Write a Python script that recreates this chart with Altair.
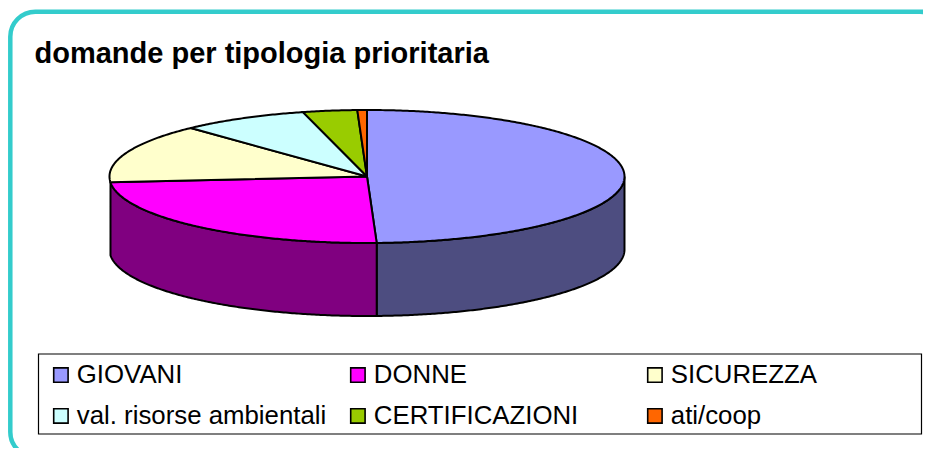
import math
import altair as alt
import pandas as pd

categories = ["GIOVANI", "DONNE", "SICUREZZA", "val. risorse ambientali", "CERTIFICAZIONI", "ati/coop"]
shares = [49.4, 24.2, 14.4, 8.0, 3.4, 0.6]
top_colors = ["#9999FF", "#FF00FF", "#FFFFCC", "#CCFFFF", "#99CC00", "#FF6600"]
wall_colors = {"GIOVANI": "#4D4D80", "DONNE": "#800080"}
title_text = "domande per tipologia prioritaria"

W, H = 915, 440
CX, CY, RX, RY, DEPTH = 367, 176.5, 257.5, 66.5, 73


def pt(deg):
    a = math.radians(deg)
    return math.sin(a), math.cos(a)


def arc(a0, a1):
    n = max(2, int(abs(a1 - a0) * 2))
    return [pt(a0 + (a1 - a0) * i / n) for i in range(n + 1)]


total = sum(shares)
top_rows, wall_rows = [], []
start = 0.0
for cat, s in zip(categories, shares):
    end = start + 360 * s / total
    poly = [(0.0, 0.0)] + arc(start, end) + [(0.0, 0.0)]
    for i, (x, y) in enumerate(poly):
        top_rows.append({"slice": cat, "x": x, "y": y, "i": i})
    # the visible outer wall: front half of the ellipse only
    w0, w1 = max(start, 90), min(end, 270)
    if cat in wall_colors and w1 > w0:
        edge = arc(w0, w1)
        ring = edge + [(x, y - DEPTH / RY) for x, y in reversed(edge)] + [edge[0]]
        for i, (x, y) in enumerate(ring):
            wall_rows.append({"wall": cat, "color": wall_colors[cat], "x": x, "y": y, "i": i})
    start = end

x_scale = alt.Scale(domain=[(8 - CX) / RX, (8 + W - CX) / RX], range=[0, W], nice=False, zero=False)
y_scale = alt.Scale(domain=[(CY - 8) / RY, (CY - 8 - H) / RY], range=[0, H], nice=False, zero=False)
X = alt.X("x:Q", scale=x_scale, axis=None)
Y = alt.Y("y:Q", scale=y_scale, axis=None)

frame = alt.Chart(pd.DataFrame({"a": [0]})).mark_rect(
    fill="white", stroke="#33CCCC", strokeWidth=4.5, cornerRadius=25, clip=True
).encode(x=alt.value(2.3), x2=alt.value(937), y=alt.value(3.7), y2=alt.value(449))

legend_box = alt.Chart(pd.DataFrame({"a": [0]})).mark_rect(
    fill="white", stroke="black", strokeWidth=1.2
).encode(x=alt.value(30.5), x2=alt.value(913.5), y=alt.value(346), y2=alt.value(426))

walls = alt.Chart(pd.DataFrame(wall_rows)).mark_line(stroke="black", strokeWidth=2).encode(
    x=X, y=Y, order="i:Q", detail="wall:N",
    fill=alt.Fill("color:N", scale=None, legend=None),
)

tops = alt.Chart(pd.DataFrame(top_rows)).mark_line(stroke="black", strokeWidth=2).encode(
    x=X, y=Y, order="i:Q",
    fill=alt.Fill(
        "slice:N",
        scale=alt.Scale(domain=categories, range=top_colors),
        sort=categories,
        legend=alt.Legend(
            orient="none", legendX=40, legendY=354, columns=3, direction="horizontal", gridAlign="all",
            title=None, symbolType="square", symbolSize=207, symbolStrokeColor="black",
            symbolStrokeWidth=1.6, symbolOpacity=1, labelFont="Liberation Sans", labelFontSize=25.8,
            labelColor="black", labelLimit=400, labelOffset=3, columnPadding=18, rowPadding=14,
            padding=0,
        ),
    ),
)

title = alt.Chart(pd.DataFrame({"t": [title_text]})).mark_text(
    font="Liberation Sans", fontWeight="bold", fontSize=29, align="left", baseline="alphabetic", color="black"
).encode(x=alt.value(26.5), y=alt.value(54.5), text="t:N")

chart = (
    alt.layer(frame, legend_box, walls, tops, title)
    .resolve_scale(fill="independent")
    .properties(width=W, height=H, padding=0, autosize=alt.AutoSizeParams(type="none"), background="white")
    .configure_view(stroke=None)
)
chart.save("out.html", embed_options={"renderer": "svg", "actions": False})
